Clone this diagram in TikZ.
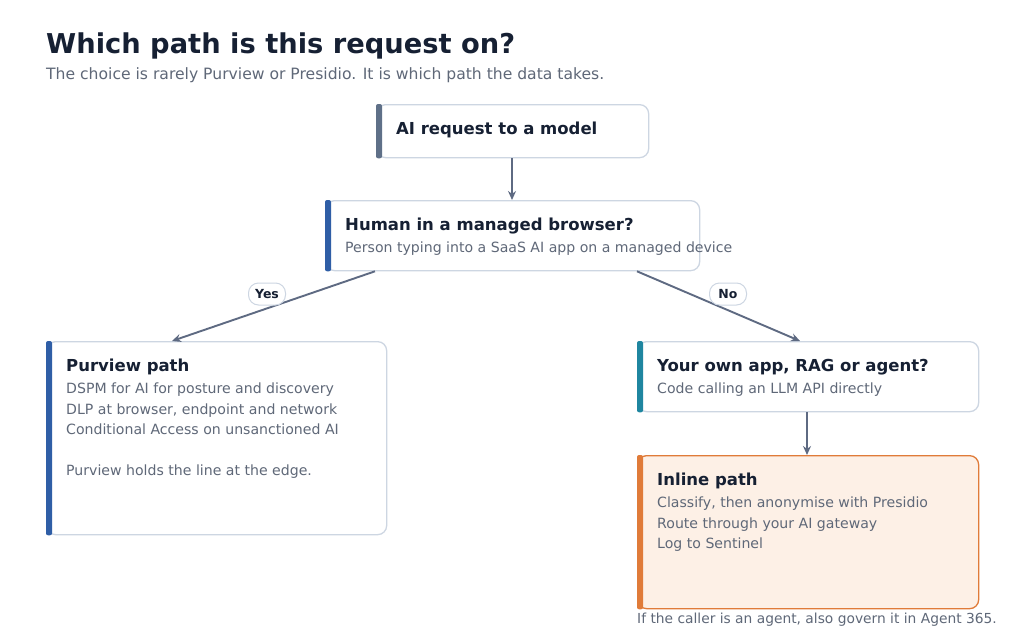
\documentclass[tikz,border=0pt]{standalone}
\usepackage{fontspec}
\setmainfont{DejaVu Sans}
\usetikzlibrary{arrows.meta}
\definecolor{ink}{HTML}{162033}
\definecolor{sub}{HTML}{5F6878}
\definecolor{edge}{HTML}{CDD6E2}
\definecolor{arr}{HTML}{5E6A82}
\definecolor{slate}{HTML}{5F7088}
\definecolor{blu}{HTML}{2F5EA6}
\definecolor{teal}{HTML}{1F86A0}
\definecolor{org}{HTML}{E07B39}
\definecolor{orgfill}{HTML}{FDF0E6}
\tikzset{
  box/.style={draw=edge, line width=1.3pt, rounded corners=9pt, fill=white, anchor=north west, inner sep=0pt},
  bar/.style={fill=#1, draw=none, rounded corners=2pt},
  ttl/.style={anchor=base west, text=ink, font=\fontsize{16.5}{19}\selectfont\bfseries, inner sep=0pt},
  txt/.style={anchor=base west, text=sub, font=\fontsize{14.1}{16}\selectfont, inner sep=0pt},
  conn/.style={draw=arr, line width=1.9pt, -{Stealth[length=9pt,width=8pt]}},
  pill/.style={draw=edge, fill=white, line width=1pt, rounded corners=10pt, minimum width=37pt, minimum height=22pt, inner sep=0pt, text=ink, font=\fontsize{12.5}{14}\selectfont\bfseries},
}
\begin{document}
\begin{tikzpicture}[x=1pt,y=-1pt]
\useasboundingbox (0,0) rectangle (1024,637);
\fill[white] (0,0) rectangle (1024,637);
% heading
\node[anchor=base west, inner sep=0pt, text=ink, font=\fontsize{27.3}{32}\selectfont\bfseries] (head) at (46,53) {Which path is this request on?};
\node[anchor=base west, inner sep=0pt, text=sub, font=\fontsize{15.6}{18}\selectfont] (subhead) at (46,79) {The choice is rarely Purview or Presidio. It is which path the data takes.};
% boxes
\node[box, minimum width=272pt, minimum height=53pt] (a) at (376,104) {};
\fill[bar=slate] (a.north west) rectangle ([xshift=6pt]a.south west);
\node[ttl] (at) at (396,134) {AI request to a model};

\node[box, minimum width=374pt, minimum height=70pt] (b) at (325,200) {};
\fill[bar=blu] (b.north west) rectangle ([xshift=6pt]b.south west);
\node[ttl] (bt) at (345,230) {Human in a managed browser?};
\node[txt] (bs) at (345,252) {Person typing into a SaaS AI app on a managed device};

\node[box, minimum width=340pt, minimum height=193pt] (p) at (46,341) {};
\fill[bar=blu] (p.north west) rectangle ([xshift=6pt]p.south west);
\node[ttl] (pt) at (66,371) {Purview path};
\node[txt] (p1) at (66,393) {DSPM for AI for posture and discovery};
\node[txt] (p2) at (66,414) {DLP at browser, endpoint and network};
\node[txt] (p3) at (66,434) {Conditional Access on unsanctioned AI};
\node[txt] (p4) at (66,475) {Purview holds the line at the edge.};

\node[box, minimum width=341pt, minimum height=70pt] (o) at (637,341) {};
\fill[bar=teal] (o.north west) rectangle ([xshift=6pt]o.south west);
\node[ttl] (ot) at (657,371) {Your own app, RAG or agent?};
\node[txt] (os) at (657,393) {Code calling an LLM API directly};

\node[box, draw=org, fill=orgfill, minimum width=341pt, minimum height=153pt] (i) at (637,455) {};
\fill[bar=org] (i.north west) rectangle ([xshift=6pt]i.south west);
\node[ttl] (it) at (657,485) {Inline path};
\node[txt] (i1) at (657,507) {Classify, then anonymise with Presidio};
\node[txt] (i2) at (657,528) {Route through your AI gateway};
\node[txt] (i3) at (657,548) {Log to Sentinel};

\node[anchor=base west, inner sep=0pt, text=sub, font=\fontsize{13.8}{16}\selectfont] (note) at (637,623) {If the caller is an agent, also govern it in Agent 365.};

% connectors
\coordinate (a1) at (512,157);
\coordinate (b0) at (512,200);
\draw[conn] (a.south -| a1) -- (b.north -| b0);
\coordinate (bl) at (375,270);
\coordinate (pl) at (172,341);
\coordinate (br) at (637,270);
\coordinate (or) at (800,341);
\draw[conn] (b.south -| bl) -- (p.north -| pl);
\draw[conn] (b.south -| br) -- (o.north -| or);
\coordinate (ox) at (807,411);
\draw[conn] (o.south -| ox) -- (i.north -| ox);
\node[pill] (yes) at (267,294) {Yes};
\node[pill] (no) at (728,294) {No};
\end{tikzpicture}
\end{document}
